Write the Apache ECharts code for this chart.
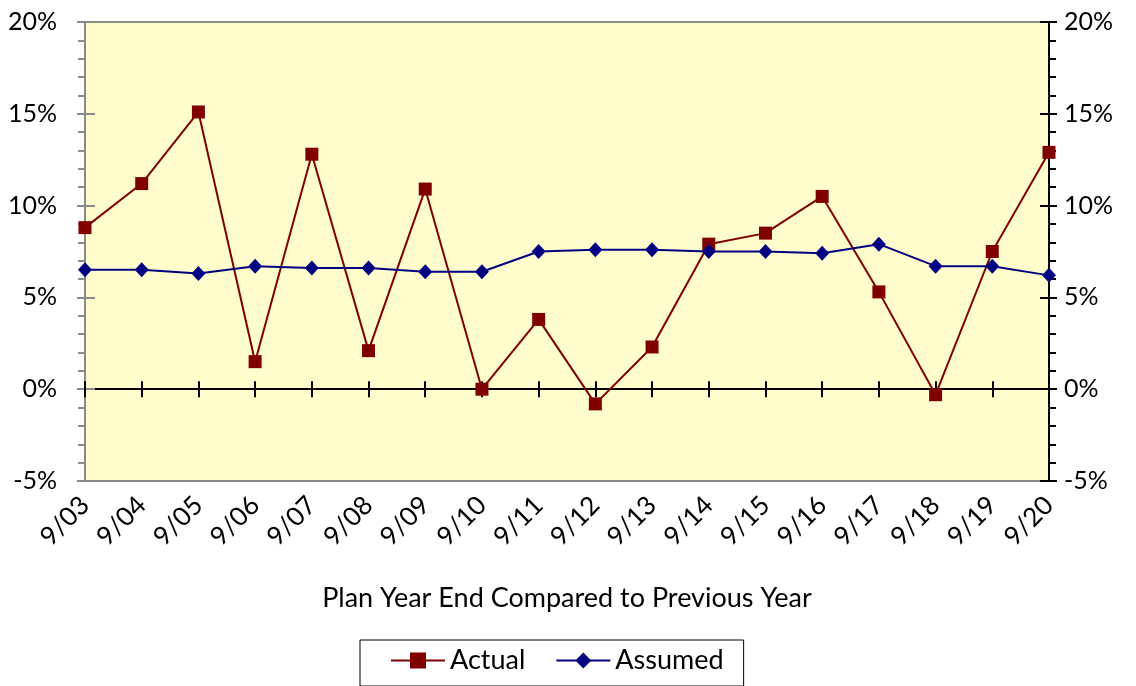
<!DOCTYPE html>
<html>
<head>
<meta charset="utf-8">
<script src="https://cdn.jsdelivr.net/npm/echarts@6/dist/echarts.min.js"></script>
<style>
  html, body { margin: 0; padding: 0; background: #fff; }
  #chart { width: 1136px; height: 686px; }
</style>
</head>
<body>
<div id="chart"></div>
<script>
// plan years
const years = ["9/03", "9/04", "9/05", "9/06", "9/07", "9/08", "9/09", "9/10", "9/11",
  "9/12", "9/13", "9/14", "9/15", "9/16", "9/17", "9/18", "9/19", "9/20"];
// returns in percent
const actual = [8.8, 11.2, 15.1, 1.5, 12.8, 2.1, 10.9, 0.0, 3.8,
  -0.8, 2.3, 7.9, 8.5, 10.5, 5.3, -0.3, 7.5, 12.9];
const assumed = [6.5, 6.5, 6.3, 6.7, 6.6, 6.6, 6.4, 6.4, 7.5,
  7.6, 7.6, 7.5, 7.5, 7.4, 7.9, 6.7, 6.7, 6.2];

const FONT = "Lato";
const chart = echarts.init(document.getElementById("chart"));

const yBase = (pos, color, withLabels, inside, len) => ({
  type: "value",
  position: pos,
  min: -5,
  max: 20,
  interval: 5,
  splitLine: { show: false },
  axisLine: { show: withLabels, lineStyle: { color: color, width: 2 } },
  axisTick: { show: true, inside: inside, length: len, lineStyle: { color: color, width: 2 } },
  minorTick: { show: withLabels, splitNumber: 5, length: 7, lineStyle: { color: color, width: 2 } },
  axisLabel: {
    show: withLabels,
    formatter: "{value}%",
    fontFamily: FONT,
    fontSize: 25,
    color: "#000",
    margin: pos === "left" ? 28 : 15,
  },
});

const xTicks = (inside) => ({
  type: "category",
  position: "bottom",
  data: years,
  boundaryGap: false,
  axisLine: { show: true, onZero: true, lineStyle: { color: "#000", width: 2 } },
  axisTick: { show: true, inside: inside, length: 8, lineStyle: { color: "#000", width: 2 } },
  axisLabel: { show: false },
});

chart.setOption({
  animation: false,
  textStyle: { fontFamily: FONT },
  grid: {
    left: 85,
    right: 87,
    top: 22,
    bottom: 205,
    show: true,
    backgroundColor: "#FFFDCC",
    borderColor: "#8a8a8a",
    borderWidth: 2,
  },
  legend: {
    left: 360,
    top: 640,
    padding: [7, 20, 12, 30],
    borderColor: "#000",
    borderWidth: 1,
    itemWidth: 54,
    itemHeight: 20,
    itemGap: 30,
    textStyle: { fontFamily: FONT, fontSize: 27, color: "#000" },
    data: ["Actual", "Assumed"],
  },
  xAxis: [
    {
      type: "category",
      position: "bottom",
      data: years,
      boundaryGap: false,
      axisLine: { show: false, onZero: false },
      axisTick: { show: false },
      axisLabel: {
        rotate: 45,
        margin: 20,
        interval: 0,
        fontFamily: FONT,
        fontSize: 26,
        color: "#000",
      },
      name: "Plan Year End Compared to Previous Year",
      nameLocation: "middle",
      nameGap: 104,
      nameTextStyle: { fontFamily: FONT, fontSize: 27, color: "#000" },
    },
    xTicks(true),
    xTicks(false),
  ],
  yAxis: [
    yBase("left", "#8a8a8a", true, false, 8),
    yBase("right", "#000", true, false, 8),
    yBase("left", "#8a8a8a", false, true, 10),
    yBase("right", "#000", false, true, 9),
  ],
  series: [
    {
      name: "Actual",
      type: "line",
      data: actual,
      xAxisIndex: 0,
      yAxisIndex: 0,
      symbol: "rect",
      symbolSize: 13,
      lineStyle: { color: "#800000", width: 2 },
      itemStyle: { color: "#800000" },
      z: 3,
    },
    {
      name: "Assumed",
      type: "line",
      data: assumed,
      xAxisIndex: 0,
      yAxisIndex: 0,
      symbol: "diamond",
      symbolSize: [14, 15],
      lineStyle: { color: "#000080", width: 2 },
      itemStyle: { color: "#000080" },
      z: 4,
    },
  ],
});
</script>
</body>
</html>
